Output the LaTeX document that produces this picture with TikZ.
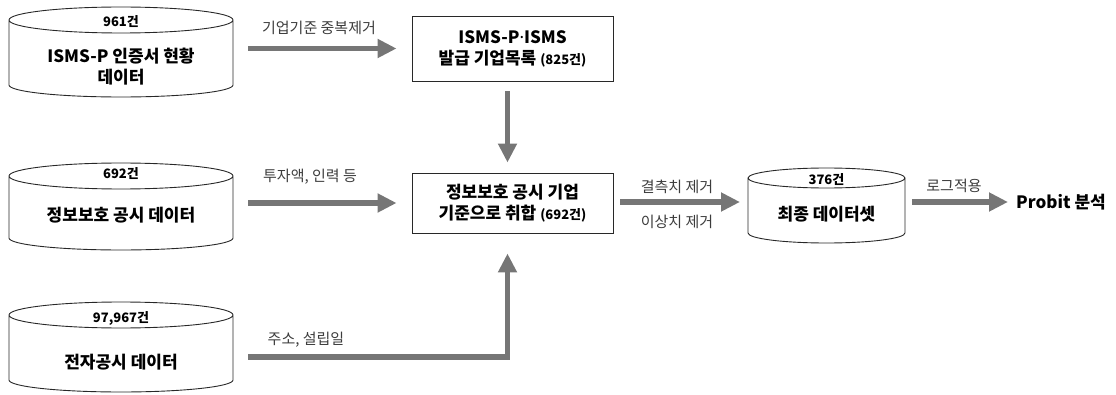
\documentclass[tikz,border=0pt]{standalone}
\usepackage{fontspec}
\setmainfont{Noto Sans CJK KR}
\newfontfamily\latinf{Noto Sans}
\usetikzlibrary{arrows.meta,calc}
\definecolor{arrgray}{RGB}{118,118,118}
\definecolor{lblgray}{RGB}{60,60,60}
\definecolor{linecol}{RGB}{40,40,40}
\newcommand\drawcyl[3]{%
  \draw[cylline] let \p1=(#1.north west), \p2=(#1.south east), \n1={(\x2-\x1)/2} in
    ($(#1.north)+(0,-#2)$) ellipse [x radius=\n1, y radius=#2pt]
    (\x1,\y1-#2pt) -- (\x1,\y2+#3pt) arc[start angle=180, end angle=360, x radius=\n1, y radius=#3pt] -- (\x2,\y1-#2pt);
}
\tikzset{
  x=1pt, y=1pt,
  cylnode/.style={rectangle, inner sep=0pt, outer sep=0pt},
  cylline/.style={draw=linecol, line width=0.9pt},
  cnt/.style={font=\bfseries\fontsize{13}{15}\selectfont, inner sep=0pt},
  bigtxt/.style={font=\bfseries\fontsize{17}{21}\selectfont, align=center, inner sep=0pt},
  boxn/.style={draw=linecol, line width=0.9pt, rectangle, inner sep=0pt, font=\bfseries\fontsize{17}{21}\selectfont, align=center},
  lbl/.style={font=\fontsize{15}{17}\selectfont, text=lblgray, inner sep=0pt},
  fatarrow/.style={draw=arrgray, line width=5.5pt, -{Triangle[length=19pt,width=18pt]}},
}
\newcommand\smallcnt[1]{{\fontsize{13}{15}\selectfont #1}}
\begin{document}
\begin{tikzpicture}
\useasboundingbox (0,0) rectangle (1116,394);
% cylinders
\node[cylnode, minimum width=224pt, minimum height=90pt] (c1) at (121,342) {};
\drawcyl{c1}{13}{12}
\node[cnt] (c1n) at (121,372) {961건};
\node[bigtxt] (c1t) at (121,327) {ISMS-P 인증서 현황\\데이터};

\node[cylnode, minimum width=224pt, minimum height=87pt] (c2) at (121,187.5) {};
\drawcyl{c2}{13}{12}
\node[cnt] (c2n) at (121,220) {692건};
\node[bigtxt] (c2t) at (121,179) {정보보호 공시 데이터};

\node[cylnode, minimum width=224pt, minimum height=90pt] (c3) at (121,47) {};
\drawcyl{c3}{13}{12}
\node[cnt] (c3n) at (121,76) {97,967건};
\node[bigtxt] (c3t) at (121,32) {전자공시 데이터};

\node[cylnode, minimum width=157pt, minimum height=75pt] (c4) at (826.5,188.5) {};
\drawcyl{c4}{10}{10}
\node[cnt] (c4n) at (826.5,214) {376건};
\node[bigtxt] (c4t) at (826.5,180) {최종 데이터셋};

% boxes
\node[boxn, minimum width=201pt, minimum height=65pt] (b1) at (512.5,345.5) {ISMS-P{\latinf ·}ISMS\\발급 기업목록 \smallcnt{(825건)}};
\node[boxn, minimum width=201pt, minimum height=60pt] (b2) at (512.5,191) {정보보호 공시 기업\\기준으로 취합 \smallcnt{(692건)}};

\node[font=\bfseries\fontsize{17}{21}\selectfont, anchor=west, inner sep=0pt] (pr) at (1016,192) {Probit 분석};

% arrows
\draw[fatarrow, shorten <=15pt, shorten >=15pt] (c1.east |- b1.west) -- (b1.west);
\draw[fatarrow, shorten <=15pt, shorten >=15pt] (c2.east |- b2.west) -- (b2.west);
\draw[fatarrow, shorten <=10pt, shorten >=10pt] ([xshift=-5pt]b1.south) -- ([xshift=-5pt]b2.north);
\coordinate (a3s) at ([xshift=15pt]c3.east |- 0,37);
\coordinate (a3c) at ([xshift=-5pt]b2.south |- a3s);
\draw[fatarrow, shorten >=20pt] (a3s) -- (a3c) -- ([xshift=-5pt]b2.south);
\draw[fatarrow, shorten <=7pt, shorten >=8pt] (b2.east |- 0,192) -- (c4.west |- 0,192);
\draw[fatarrow, shorten <=7pt, shorten >=8pt] (c4.east |- pr.west) -- (pr.west);

% labels
\node[lbl] (l1) at (319,366) {기업기준 중복제거};
\node[lbl] (l2) at (310,217) {투자액, 인력 등};
\node[lbl] (l3) at (306,54) {주소, 설립일};
\node[lbl] (l4) at (677,207) {결측치 제거};
\node[lbl] (l5) at (677,172) {이상치 제거};
\node[lbl] (l6) at (954,208) {로그적용};
\end{tikzpicture}
\end{document}
